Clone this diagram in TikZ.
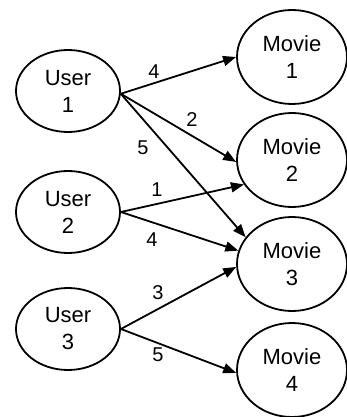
\documentclass[tikz,border=0pt]{standalone}
\usepackage{fontspec}
\setmainfont{Liberation Sans}
\usetikzlibrary{shapes.geometric,arrows.meta}
\begin{document}
\begin{tikzpicture}[x=1pt,y=-1pt,
  ent/.style={draw,line width=1.8pt,ellipse,inner sep=0pt,align=center,
    font=\fontsize{22}{27}\selectfont},
  user/.style={ent,minimum width=104pt,minimum height=82pt},
  movie/.style={ent,minimum width=110pt,minimum height=94pt},
  edge/.style={line width=1.8pt,-{Triangle[length=13pt,width=10pt]}},
  lab/.style={font=\fontsize{20}{22}\selectfont,inner sep=0pt}]
\useasboundingbox (0,0) rectangle (347,417);
\node[user] (u1) at (68,91) {User\\1};
\node[user] (u2) at (68,212) {User\\2};
\node[user] (u3) at (68,329) {User\\3};
\node[movie] (m1) at (292,57) {Movie\\1};
\node[movie] (m2) at (292,160) {Movie\\2};
\node[movie] (m3) at (292,264) {Movie\\3};
\node[movie] (m4) at (292,370) {Movie\\4};
\draw[edge] (u1.-3) -- (m1.west);
\draw[edge] (u1.-3) -- (m2.182);
\draw[edge] (u1.-3) -- (m3.150);
\draw[edge] (u2.east) -- (m2.207);
\draw[edge] (u2.east) -- (m3.166);
\draw[edge] (u3.east) -- (m3.183);
\draw[edge] (u3.east) -- (m4.183);
\node[lab] (l1) at (154,72) {4};
\node[lab] (l2) at (192,120) {2};
\node[lab] (l3) at (143,148) {5};
\node[lab] (l4) at (157,190) {1};
\node[lab] (l5) at (152,240) {4};
\node[lab] (l6) at (158,293) {3};
\node[lab] (l7) at (158,355) {5};
\end{tikzpicture}
\end{document}
